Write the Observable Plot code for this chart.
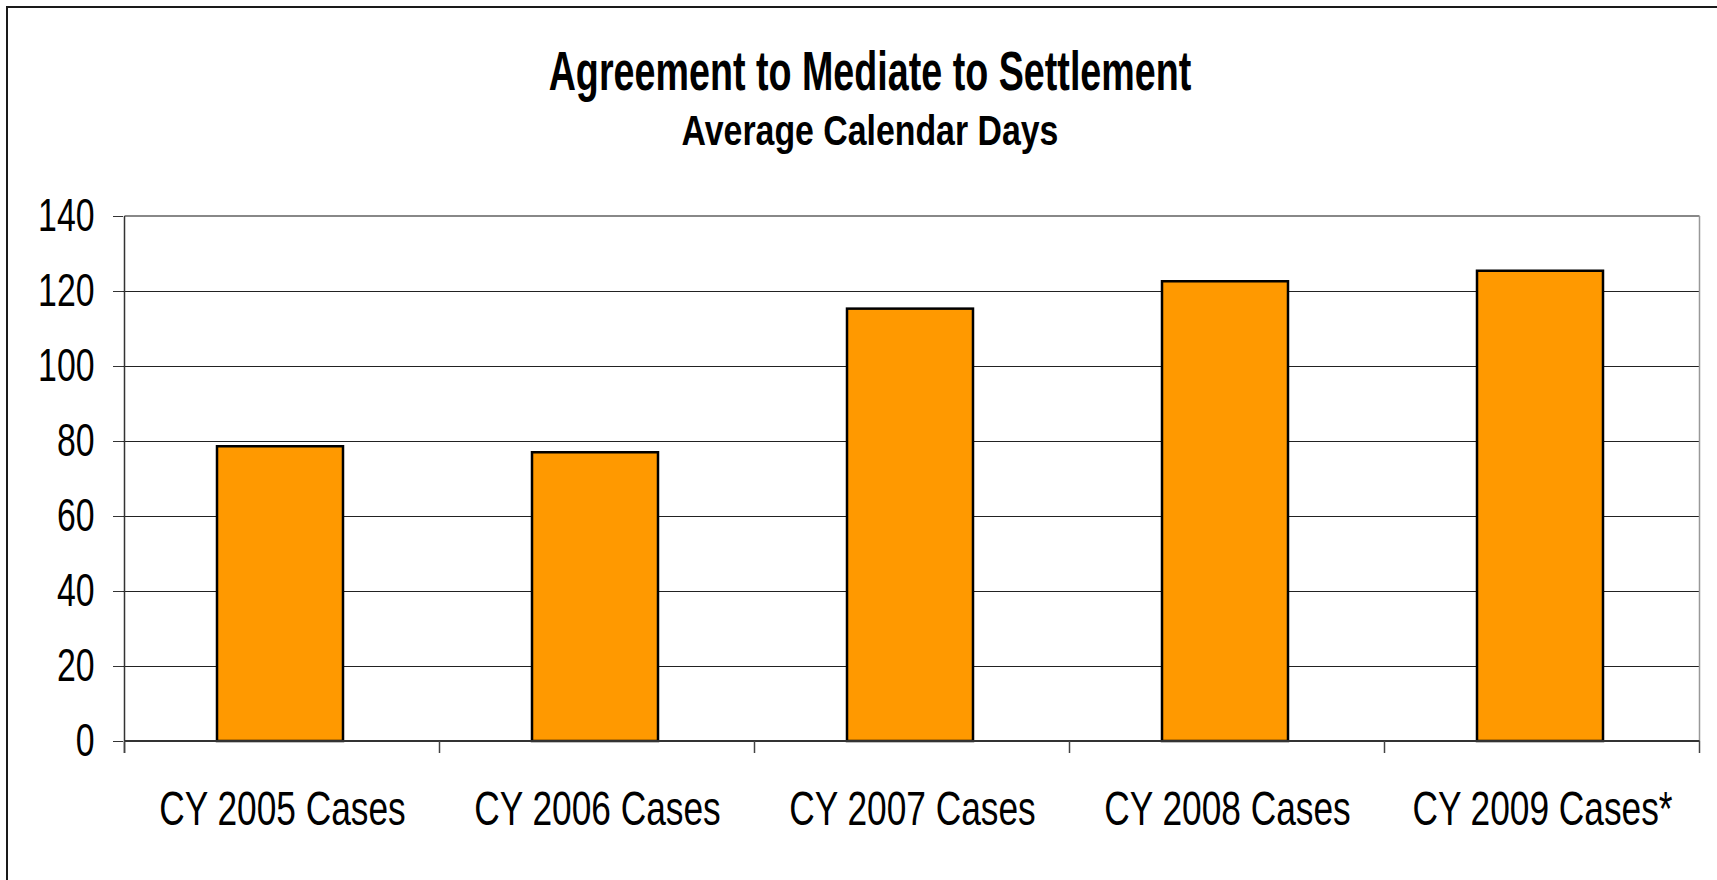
<!DOCTYPE html>
<html><head><meta charset="utf-8">
<script src="https://cdn.jsdelivr.net/npm/d3@7"></script>
<script src="https://cdn.jsdelivr.net/npm/@observablehq/plot@0.6"></script>
<style>
html,body{margin:0;padding:0;background:#fff;}
#wrap{position:relative;width:1717px;height:880px;overflow:hidden;background:#fff;font-family:"Liberation Sans",Arial,sans-serif;}
#border{position:absolute;left:6px;top:6px;width:1800px;height:1000px;border:2px solid #1a1a1a;}
.title{position:absolute;left:0;width:1740px;text-align:center;font-weight:bold;line-height:1;white-space:nowrap;color:#000;}
#t1{top:44px;font-size:55px;transform:scaleX(0.685);}
#t2{top:109px;font-size:43px;transform:scaleX(0.787);}
#chart{position:absolute;left:0;top:0;}
</style></head><body>
<div id="wrap"><div id="border"></div><div id="chart"></div>
<div class="title" id="t1">Agreement to Mediate to Settlement</div>
<div class="title" id="t2">Average Calendar Days</div></div>
<script>
const categories = ["CY 2005 Cases", "CY 2006 Cases", "CY 2007 Cases", "CY 2008 Cases", "CY 2009 Cases*"];
const values = [78.6, 77.0, 115.3, 122.6, 125.4];
const yTicks = [0, 20, 40, 60, 80, 100, 120, 140];

const data = categories.map((c, i) => ({category: c, days: values[i]}));
const yMax = yTicks[yTicks.length - 1];

function axisFrame(index, scales, vals, dim) {
  const x = scales.x, y = scales.y;
  const bw = x.bandwidth(), st = x.step();
  const xs = categories.map(c => x(c) + bw / 2 - st / 2);
  xs.push(xs[xs.length - 1] + st);
  const y0 = y(0), yT = y(yMax);
  const g = d3.create("svg:g");
  g.append("line").attr("x1", xs[0]).attr("x2", xs[xs.length - 1]).attr("y1", yT).attr("y2", yT)
    .attr("stroke", "#888").attr("stroke-width", 2);
  g.append("line").attr("x1", xs[xs.length - 1]).attr("x2", xs[xs.length - 1]).attr("y1", yT).attr("y2", y0)
    .attr("stroke", "#999").attr("stroke-width", 1.5);
  g.append("line").attr("x1", xs[0]).attr("x2", xs[xs.length - 1]).attr("y1", y0).attr("y2", y0)
    .attr("stroke", "#333").attr("stroke-width", 2);
  g.append("line").attr("x1", xs[0]).attr("x2", xs[0]).attr("y1", yT).attr("y2", y0 + 12)
    .attr("stroke", "#333").attr("stroke-width", 1.5);
  xs.forEach(v => g.append("line").attr("x1", v).attr("x2", v).attr("y1", y0).attr("y2", y0 + 12)
    .attr("stroke", "#444").attr("stroke-width", 1.5));
  return g.node();
}

const chart = Plot.plot({
  width: 1717,
  height: 880,
  marginLeft: 123,
  marginRight: 17,
  marginTop: 216,
  marginBottom: 139,
  style: {fontFamily: "'Liberation Sans', Arial, sans-serif", background: "transparent", color: "#000"},
  x: {domain: categories, paddingInner: 0.6, paddingOuter: 0.3},
  y: {domain: [0, yMax]},
  marks: [
    Plot.ruleY(yTicks.filter(t => t > 0 && t < yMax), {stroke: "#222", strokeWidth: 1}),
    Plot.barY(data, {x: "category", y: "days", fill: "#FF9900", stroke: "#000", strokeWidth: 2.5, dx: -2}),
    axisFrame,
    Plot.axisY(yTicks, {label: null, tickSize: 10, tickPadding: 19, fontSize: 46, stroke: "#333", fill: "#000"}),
    Plot.axisX({label: null, tickSize: 0, tickPadding: 49, fontSize: 48, fill: "#000"})
  ]
});
document.getElementById("chart").appendChild(chart);

const squeeze = 0.735;
chart.querySelectorAll("text").forEach(t => {
  const b = t.getBBox();
  const anchor = getComputedStyle(t).textAnchor;
  const ax = anchor === "end" ? b.x + b.width : anchor === "middle" ? b.x + b.width / 2 : b.x;
  const tr = t.getAttribute("transform") || "";
  t.setAttribute("transform", `${tr} translate(${ax},0) scale(${squeeze},1) translate(${-ax},0)`);
});
</script>
</body></html>
